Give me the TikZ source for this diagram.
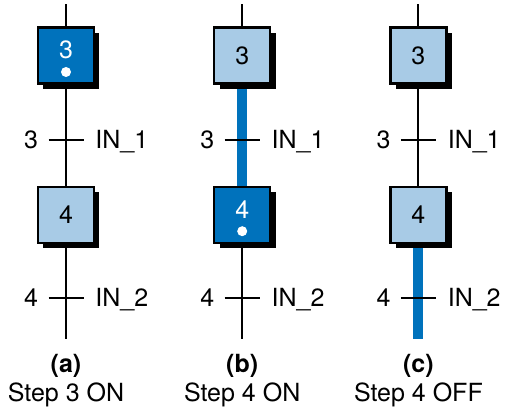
\documentclass[tikz,border=0pt]{standalone}
\usepackage{fontspec}
\setmainfont{TeX Gyre Heros}
\usepackage{tikz}
\usetikzlibrary{positioning,shadows,backgrounds}
\definecolor{stepdark}{RGB}{0,114,188}
\definecolor{steplight}{RGB}{168,203,230}

\begin{document}
\begin{tikzpicture}[
    every node/.style={font=\fontsize{12.5}{15}\selectfont},
    node distance=50.5pt and 59pt,
    stepbox/.style={draw, line width=1.1pt, fill=steplight, minimum size=28pt, inner sep=0pt,
        drop shadow={fill=black, opacity=1, shadow xshift=2.7pt, shadow yshift=-2.7pt}},
    activebox/.style={stepbox, fill=stepdark, text=white},
    tokendot/.style={circle, fill=white, inner sep=0pt, minimum size=5pt},
    link/.style={line width=1pt},
    flow/.style={line width=5pt, stepdark},
    bar/.style={line width=1pt},
    tlabel/.style={inner sep=0pt, text depth=0pt},
    caption/.style={anchor=base, inner sep=0pt}
]
\useasboundingbox (0,0) rectangle (253pt,205pt);

% (a) step 3 active
\node[activebox] (s3a) at (33pt,177.25pt) {\raisebox{5.5pt}{3}};
\node[tokendot] (dot3a) at ([yshift=-8.25pt]s3a.center) {};
\node[stepbox, below=of s3a] (s4a) {4};
\coordinate[above=11pt of s3a] (topa);
\coordinate[below=27.5pt of s3a] (t3a);
\coordinate[below=27pt of s4a] (t4a);
\coordinate[below=47.5pt of s4a] (bota);

% (b) step 4 active
\node[stepbox, right=of s3a] (s3b) {3};
\node[activebox, below=of s3b] (s4b) {\raisebox{5.5pt}{4}};
\node[tokendot] (dot4b) at ([yshift=-8.25pt]s4b.center) {};
\coordinate[above=11pt of s3b] (topb);
\coordinate[below=27.5pt of s3b] (t3b);
\coordinate[below=27pt of s4b] (t4b);
\coordinate[below=47.5pt of s4b] (botb);

% (c) step 4 off
\node[stepbox, right=of s3b] (s3c) {3};
\node[stepbox, below=of s3c] (s4c) {4};
\coordinate[above=11pt of s3c] (topc);
\coordinate[below=27.5pt of s3c] (t3c);
\coordinate[below=27pt of s4c] (t4c);
\coordinate[below=47.5pt of s4c] (botc);

% Links
\begin{scope}[on background layer]
\draw[link] (topa) -- (s3a);
\draw[link] (s3a) -- (s4a);
\draw[link] (s4a) -- (bota);
\draw[link] (topb) -- (s3b);
\draw[flow] (s3b) -- (s4b);
\draw[link] (s4b) -- (botb);
\draw[link] (topc) -- (s3c);
\draw[link] (s3c) -- (s4c);
\draw[flow] (s4c) -- (botc);
\end{scope}

% Transitions
\draw[bar] ([xshift=-8.75pt]t3a) -- ([xshift=8.75pt]t3a);
\draw[bar] ([xshift=-8.75pt]t4a) -- ([xshift=8.75pt]t4a);
\draw[bar] ([xshift=-8.75pt]t3b) -- ([xshift=8.75pt]t3b);
\draw[bar] ([xshift=-8.75pt]t4b) -- ([xshift=8.75pt]t4b);
\draw[bar] ([xshift=-8.75pt]t3c) -- ([xshift=8.75pt]t3c);
\draw[bar] ([xshift=-8.75pt]t4c) -- ([xshift=8.75pt]t4c);

\node[tlabel, anchor=east] (c3a) at ([xshift=-13.75pt]t3a) {3};
\node[tlabel, anchor=west] (in1a) at ([xshift=14.5pt]t3a) {IN\_1};
\node[tlabel, anchor=east] (c4a) at ([xshift=-13.75pt]t4a) {4};
\node[tlabel, anchor=west] (in2a) at ([xshift=14.5pt]t4a) {IN\_2};
\node[tlabel, anchor=east] (c3b) at ([xshift=-13.75pt]t3b) {3};
\node[tlabel, anchor=west] (in1b) at ([xshift=14.5pt]t3b) {IN\_1};
\node[tlabel, anchor=east] (c4b) at ([xshift=-13.75pt]t4b) {4};
\node[tlabel, anchor=west] (in2b) at ([xshift=14.5pt]t4b) {IN\_2};
\node[tlabel, anchor=east] (c3c) at ([xshift=-13.75pt]t3c) {3};
\node[tlabel, anchor=west] (in1c) at ([xshift=14.5pt]t3c) {IN\_1};
\node[tlabel, anchor=east] (c4c) at ([xshift=-13.75pt]t4c) {4};
\node[tlabel, anchor=west] (in2c) at ([xshift=14.5pt]t4c) {IN\_2};

% Captions
\node[caption, font=\fontsize{12.5}{15}\selectfont\bfseries] (laba) at ([yshift=-17pt]bota) {(a)};
\node[caption] (capa) at ([yshift=-14.5pt]laba.base) {Step 3 ON};
\node[caption, font=\fontsize{12.5}{15}\selectfont\bfseries] (labb) at ([yshift=-17pt]botb) {(b)};
\node[caption] (capb) at ([yshift=-14.5pt]labb.base) {Step 4 ON};
\node[caption, font=\fontsize{12.5}{15}\selectfont\bfseries] (labc) at ([yshift=-17pt]botc) {(c)};
\node[caption] (capc) at ([yshift=-14.5pt]labc.base) {Step 4 OFF};

\end{tikzpicture}
\end{document}
